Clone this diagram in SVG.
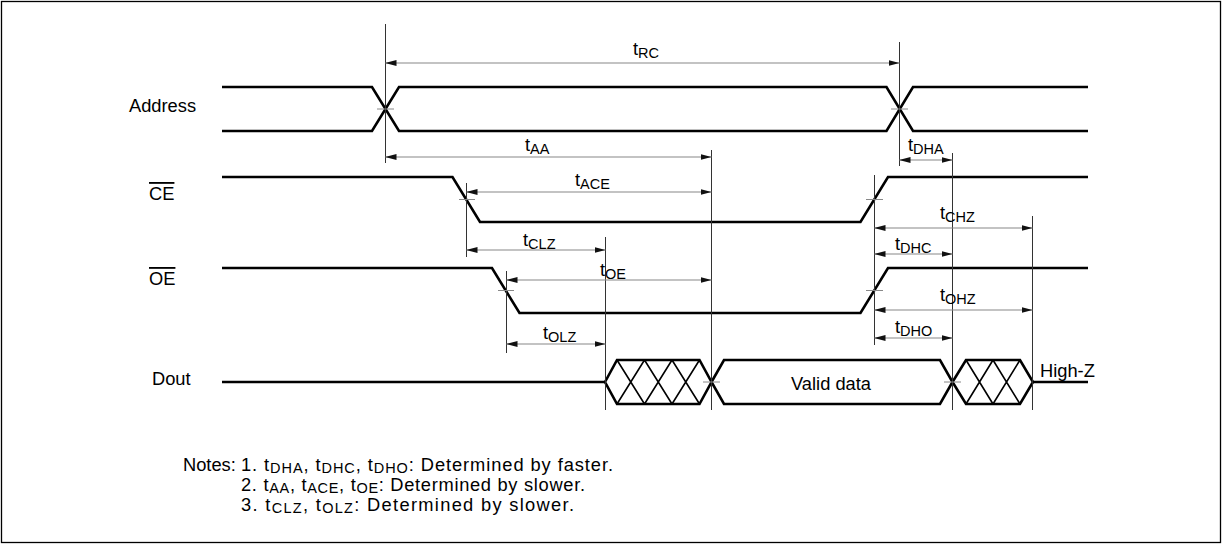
<svg xmlns="http://www.w3.org/2000/svg" width="1222" height="544" viewBox="0 0 1222 544">
<style>
text{font-family:"Liberation Sans",Arial,sans-serif;font-size:18.3px;fill:#000}
.sub{font-size:14.5px}
.sig{fill:none;stroke:#000;stroke-width:2.6;stroke-linejoin:miter}
.hatch{fill:none;stroke:#000;stroke-width:1.6}
.ref{stroke:#333;stroke-width:1;fill:none}
.tick{stroke:#888;stroke-width:1;fill:none}
.dim{stroke:#888;stroke-width:1.2;fill:none;marker-start:url(#ah);marker-end:url(#ah)}
</style>
<defs>
<marker id="ah" markerWidth="11" markerHeight="6" refX="11" refY="3" orient="auto-start-reverse" markerUnits="userSpaceOnUse">
<path d="M0,0 L11,3 L0,6 z" fill="#111"/>
</marker>
</defs>
<rect x="1.5" y="1.5" width="1219" height="541" fill="#fff" stroke="#000" stroke-width="1.3"/>

<g id="address">
<text x="129" y="112">Address</text>
<path class="sig" d="M222,87 L372,87 L399,131 L886.5,131 L913,87 L1088,87"/>
<path class="sig" d="M222,131 L372,131 L399,87 L886.5,87 L913,131 L1088,131"/>
</g>

<g id="ce">
<text x="149" y="200" text-decoration="overline">CE</text>
<path class="sig" d="M222,177 L452.5,177 L480,222 L860.5,222 L888,177 L1088,177"/>
</g>

<g id="oe">
<text x="149" y="285" text-decoration="overline">OE</text>
<path class="sig" d="M222,268 L492,268 L519.5,313 L860.5,313 L888,268 L1088,268"/>
</g>

<g id="dout">
<text x="152" y="385">Dout</text>
<path class="sig" d="M222,382 L605,382"/>
<path class="sig" d="M605,382 L617,360 L699.5,360 L711.5,382 L699.5,404 L617,404 Z"/>
<path class="hatch" d="M617,360 L644.5,404 M644.5,360 L617,404 M644.5,360 L672,404 M672,360 L644.5,404 M672,360 L699.5,404 M699.5,360 L672,404"/>
<path class="sig" d="M711.5,382 L724,360 L940,360 L952.5,382 L940,404 L724,404 Z"/>
<text x="831" y="390" text-anchor="middle">Valid data</text>
<path class="sig" d="M952.5,382 L966,360 L1020,360 L1033,382 L1020,404 L966,404 Z"/>
<path class="hatch" d="M966,360 L993,404 M993,360 L966,404 M993,360 L1020,404 M1020,360 L993,404"/>
<path class="sig" d="M1033,382 L1088,382"/>
<text x="1040" y="377">High-Z</text>
</g>

<g id="connectors">
<g id="reference-lines">
<path class="ref" d="M385.5,24 V163 M899.5,42 V166 M711.5,150 V410 M466.5,183 V257 M605.5,237 V410 M506.5,271 V353 M874.5,175 V345 M952.5,153 V410 M1032.5,216 V410"/>
<path class="tick" d="M377,109 H394 M891,109 H908 M459,199.5 H475 M866,199.5 H883 M498,290.5 H514 M866,290.5 H883 M703,382 H720 M944,382 H961"/>
</g>
<g id="dimensions">
<line class="dim" x1="385.5" y1="63" x2="899.5" y2="63"/>
<line class="dim" x1="385.5" y1="157" x2="711.5" y2="157"/>
<line class="dim" x1="899.5" y1="160" x2="952.5" y2="160"/>
<line class="dim" x1="466.5" y1="192" x2="711.5" y2="192"/>
<line class="dim" x1="466.5" y1="250" x2="605.5" y2="250"/>
<line class="dim" x1="874.5" y1="228" x2="1032.5" y2="228"/>
<line class="dim" x1="874.5" y1="254" x2="952.5" y2="254"/>
<line class="dim" x1="506.5" y1="280" x2="711.5" y2="280"/>
<line class="dim" x1="506.5" y1="344" x2="605.5" y2="344"/>
<line class="dim" x1="874.5" y1="310" x2="1032.5" y2="310"/>
<line class="dim" x1="874.5" y1="338" x2="952.5" y2="338"/>
</g>
<g id="dimension-labels">
<text x="633" y="55">t<tspan class="sub" dy="3">RC</tspan></text>
<text x="525" y="151">t<tspan class="sub" dy="3">AA</tspan></text>
<text x="908" y="151">t<tspan class="sub" dy="3">DHA</tspan></text>
<text x="575" y="186">t<tspan class="sub" dy="3">ACE</tspan></text>
<text x="523" y="246">t<tspan class="sub" dy="3">CLZ</tspan></text>
<text x="940" y="219">t<tspan class="sub" dy="3">CHZ</tspan></text>
<text x="895" y="250">t<tspan class="sub" dy="3">DHC</tspan></text>
<text x="600" y="276">t<tspan class="sub" dy="3">OE</tspan></text>
<text x="543" y="339">t<tspan class="sub" dy="3">OLZ</tspan></text>
<text x="940" y="301">t<tspan class="sub" dy="3">OHZ</tspan></text>
<text x="895" y="333">t<tspan class="sub" dy="3">DHO</tspan></text>
</g>
</g>

<g id="notes">
<text x="183" y="471">Notes:</text>
<text x="241" y="471" textLength="372" lengthAdjust="spacing">1. t<tspan class="sub" dy="2">DHA</tspan><tspan dy="-2">, t</tspan><tspan class="sub" dy="2">DHC</tspan><tspan dy="-2">, t</tspan><tspan class="sub" dy="2">DHO</tspan><tspan dy="-2">: Determined by faster.</tspan></text>
<text x="241" y="491" textLength="344" lengthAdjust="spacing">2. t<tspan class="sub" dy="2">AA</tspan><tspan dy="-2">, t</tspan><tspan class="sub" dy="2">ACE</tspan><tspan dy="-2">, t</tspan><tspan class="sub" dy="2">OE</tspan><tspan dy="-2">: Determined by slower.</tspan></text>
<text x="241" y="511" textLength="333" lengthAdjust="spacing">3. t<tspan class="sub" dy="2">CLZ</tspan><tspan dy="-2">, t</tspan><tspan class="sub" dy="2">OLZ</tspan><tspan dy="-2">: Determined by slower.</tspan></text>
</g>
</svg>
